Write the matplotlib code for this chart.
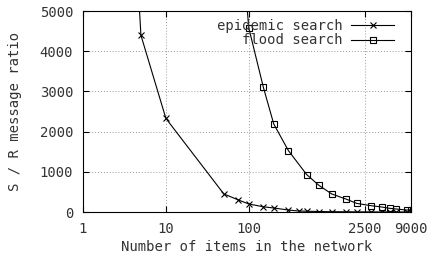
import matplotlib
matplotlib.use("Agg")
import matplotlib.pyplot as plt
from matplotlib.ticker import FixedLocator, NullLocator

# Datos

epi_x = [1, 5, 10, 50, 75, 100, 150, 200, 300, 400, 500, 700, 1000, 1500,
         2000, 3000, 4000, 5000, 6000, 8000, 9000]
epi_y = [30000, 4400, 2330, 450, 300, 200, 130, 100, 50, 25, 20, 12, 8, 6,
         4, 3, 2, 2, 1, 1, 1]

flood_x = [50, 100, 150, 200, 300, 500, 700, 1000, 1500, 2000, 3000, 4000,
           5000, 6000, 8000, 9000]
flood_y = [12000, 4580, 3100, 2190, 1530, 930, 665, 450, 320, 215, 157, 125,
           92, 75, 50, 45]

x_ticks = [1, 10, 100, 2500, 9000]
x_labels = ["1", "10", "100", "2500", "9000"]
y_ticks = [0, 1000, 2000, 3000, 4000, 5000]

# Grafica

plt.rcParams['font.family'] = ['DejaVu Sans Mono']
fig = plt.figure(figsize=(4.32, 2.57), dpi=100)
ax = fig.add_axes([0.192, 0.175, 0.759, 0.782])

ax.plot(epi_x, epi_y, color="black", lw=0.8, marker="x", ms=5, mew=0.8,
        label="epidemic search")
ax.plot(flood_x, flood_y, color="black", lw=0.8, marker="s", ms=5, mew=0.8,
        mfc="none", label="flood search")

ax.set_xscale("log")
ax.set_xlim(1, 9000)
ax.set_ylim(0, 5000)
ax.xaxis.set_major_locator(FixedLocator(x_ticks))
ax.xaxis.set_minor_locator(NullLocator())
ax.set_xticklabels(x_labels)
ax.set_yticks(y_ticks)

ax.tick_params(direction="in", length=4, width=0.8, top=True, right=True,
               labelsize=10, pad=7, colors="black", labelcolor="#333333")
ax.grid(True, color="#999999", ls=(0, (1, 2)), lw=0.7)
for gl, t in zip(ax.get_xgridlines(), x_ticks):
    if t in (1, 9000):
        gl.set_visible(False)
for gl, t in zip(ax.get_ygridlines(), y_ticks):
    if t in (0, 5000):
        gl.set_visible(False)
for s in ax.spines.values():
    s.set_linewidth(0.8)

ax.set_xlabel("Number of items in the network", fontsize=10, color="#333333",
              labelpad=3)
ax.set_ylabel("S / R message ratio", fontsize=10, color="#333333", labelpad=13)

leg = ax.legend(loc="upper right", bbox_to_anchor=(0.973, 1.0), frameon=False,
                fontsize=10, markerfirst=False, handlelength=3.1,
                handletextpad=0.65, borderaxespad=0.15, borderpad=0.4,
                labelspacing=0.05)
for t in leg.get_texts():
    t.set_ha("right")
    t.set_color("#333333")

fig.savefig("out.png", dpi=100)
